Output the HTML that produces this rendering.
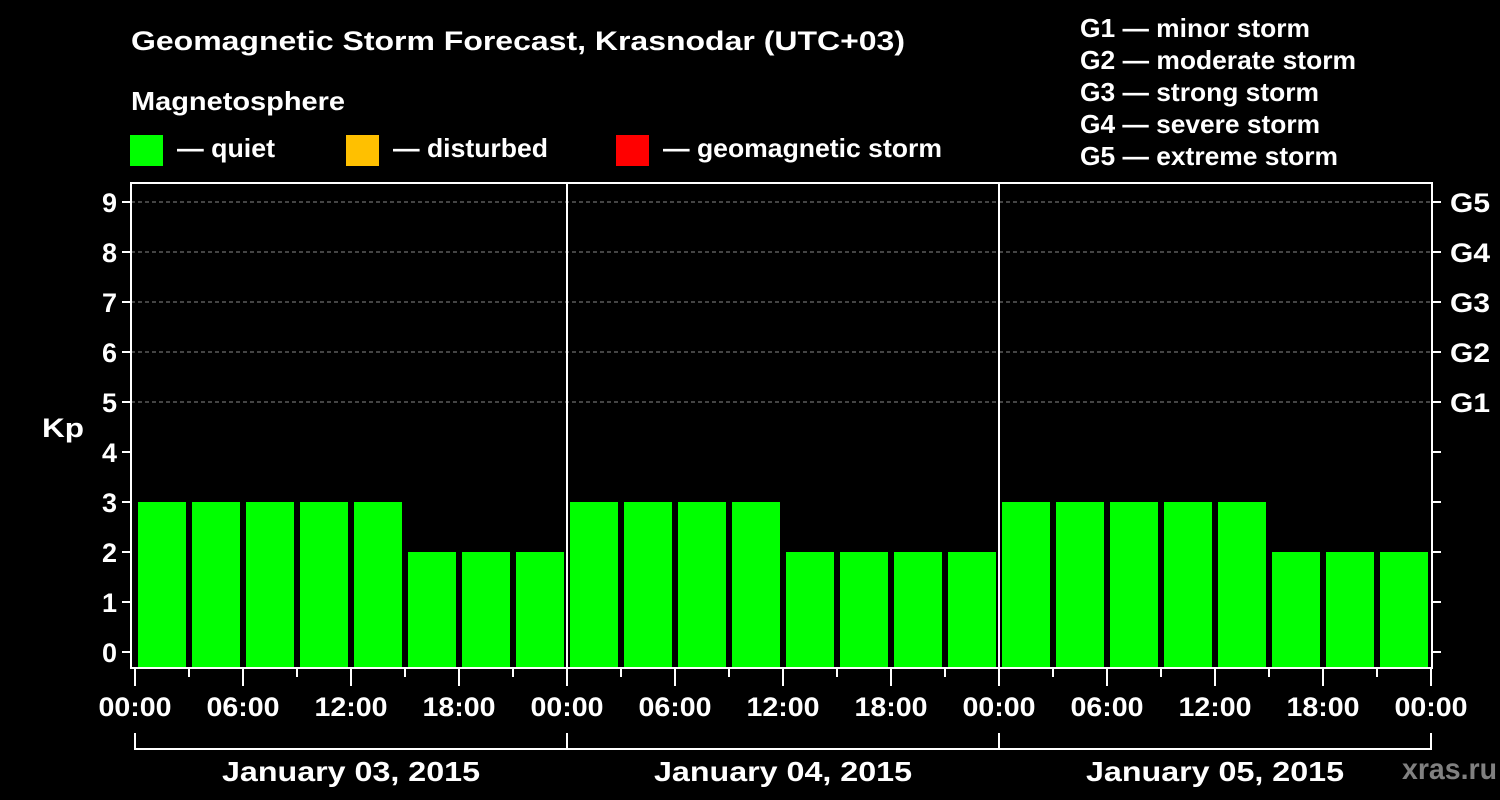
<!DOCTYPE html>
<html><head><meta charset="utf-8"><style>
html,body{margin:0;padding:0;background:#000;}
svg{display:block;font-family:"Liberation Sans",Arial,sans-serif;font-weight:bold;}
</style></head><body>
<svg id="c" width="1500" height="800" viewBox="0 0 1500 800">
<rect width="1500" height="800" fill="#000"/>
<text x="131" y="50" fill="#fff" font-size="27" textLength="774" lengthAdjust="spacingAndGlyphs">Geomagnetic Storm Forecast, Krasnodar (UTC+03)</text>
<text x="131" y="110" fill="#fff" font-size="26" textLength="214" lengthAdjust="spacingAndGlyphs">Magnetosphere</text>
<g><rect x="130" y="135" width="33" height="31" fill="#00ff00"/><text x="177" y="157" fill="#fff" font-size="26" textLength="98" lengthAdjust="spacingAndGlyphs">— quiet</text></g>
<g><rect x="346" y="135" width="33" height="31" fill="#ffc000"/><text x="393" y="157" fill="#fff" font-size="26" textLength="155" lengthAdjust="spacingAndGlyphs">— disturbed</text></g>
<g><rect x="616" y="135" width="33" height="31" fill="#ff0000"/><text x="663" y="157" fill="#fff" font-size="26" textLength="279" lengthAdjust="spacingAndGlyphs">— geomagnetic storm</text></g>
<g fill="#fff" font-size="26" lengthAdjust="spacingAndGlyphs">
<text x="1080" y="37" textLength="230" lengthAdjust="spacingAndGlyphs">G1 — minor storm</text>
<text x="1080" y="69" textLength="276" lengthAdjust="spacingAndGlyphs">G2 — moderate storm</text>
<text x="1080" y="101" textLength="239" lengthAdjust="spacingAndGlyphs">G3 — strong storm</text>
<text x="1080" y="133" textLength="240" lengthAdjust="spacingAndGlyphs">G4 — severe storm</text>
<text x="1080" y="165" textLength="258" lengthAdjust="spacingAndGlyphs">G5 — extreme storm</text>
</g>
<text x="42" y="437" fill="#fff" font-size="27" textLength="42" lengthAdjust="spacingAndGlyphs">Kp</text>
<text x="1402" y="779" fill="#808080" font-size="30" textLength="95" lengthAdjust="spacingAndGlyphs">xras.ru</text>
<g id="grid"></g><g id="bars"></g><g id="axes"></g>
</svg>
<script>
const days = ["January 03, 2015","January 04, 2015","January 05, 2015"];
const kpValues = [3,3,3,3,3,2,2,2, 3,3,3,3,2,2,2,2, 3,3,3,3,3,2,2,2];
const yTicks = [0,1,2,3,4,5,6,7,8,9];
const gLabels = ["G1","G2","G3","G4","G5"];
const gLevels = [5,6,7,8,9];
const hourLabels = ["00:00","06:00","12:00","18:00"];

const NS="http://www.w3.org/2000/svg";
const L=131,R=1432,T=183,B=668,X0=135,DAY=432;
const y=v=>652-v*50;
const x=h=>X0+h/24*DAY;
function mk(tag,attrs,parent){const e=document.createElementNS(NS,tag);for(const k in attrs)e.setAttribute(k,attrs[k]);parent.appendChild(e);return e;}
const grid=document.getElementById('grid'),bars=document.getElementById('bars'),axes=document.getElementById('axes');
const slot=DAY/8;
kpValues.forEach((v,i)=>{
  const c=v>=5?"#ff0000":(v>=4?"#ffc000":"#00ff00");
  const r=mk('rect',{x:x(i*3)+3,y:y(v),width:slot-6,height:B-y(v),fill:c},bars);
  
  
});
gLevels.forEach((g,i)=>{
  const l=mk('line',{x1:L,x2:R,y1:y(g),y2:y(g),stroke:"#888","stroke-dasharray":"4,3","stroke-width":1},grid);
  
  
  const t=mk('text',{x:1450,y:y(g)+10,fill:"#fff","font-size":27,textLength:40,lengthAdjust:"spacingAndGlyphs"},axes);t.textContent=gLabels[i];
  
  
});
const f=mk('rect',{x:L,y:T,width:R-L,height:B-T,fill:"none",stroke:"#fff","stroke-width":2},axes);


yTicks.forEach(v=>{
  mk('line',{x1:L-9,x2:L,y1:y(v),y2:y(v),stroke:"#fff","stroke-width":2},axes);
  mk('line',{x1:R,x2:R+9,y1:y(v),y2:y(v),stroke:"#fff","stroke-width":2},axes);
  const t=mk('text',{x:L-14,y:y(v)+10,fill:"#fff","font-size":27,"text-anchor":"end"},axes);t.textContent=v;
  
  
});
for(let d=0;d<days.length;d++){
  if(d>0) mk('line',{x1:x(d*24),x2:x(d*24),y1:T,y2:B,stroke:"#fff","stroke-width":2},axes);
  for(let k=0;k<8;k++){
    const xx=x(d*24+k*3);
    mk('line',{x1:xx,x2:xx,y1:B,y2:k%2?677:686,stroke:"#fff","stroke-width":2},axes);
  }
  hourLabels.forEach((h,k)=>{
    const t=mk('text',{x:x(d*24+k*6),y:716,fill:"#fff","font-size":27,"text-anchor":"middle",textLength:73,lengthAdjust:"spacingAndGlyphs"},axes);t.textContent=h;
    
    
  });
  mk('path',{d:`M${x(d*24)},733V749H${x(d*24+24)}V733`,stroke:"#fff","stroke-width":2,fill:"none"},axes);
  const t=mk('text',{x:x(d*24+12),y:781,fill:"#fff","font-size":28,"text-anchor":"middle",textLength:258,lengthAdjust:"spacingAndGlyphs"},axes);t.textContent=days[d];
  
  
}
const end=x(days.length*24);
mk('line',{x1:end,x2:end,y1:B,y2:686,stroke:"#fff","stroke-width":2},axes);
const te=mk('text',{x:end,y:716,fill:"#fff","font-size":27,"text-anchor":"middle",textLength:73,lengthAdjust:"spacingAndGlyphs"},axes);te.textContent="00:00";


</script>
</body></html>
